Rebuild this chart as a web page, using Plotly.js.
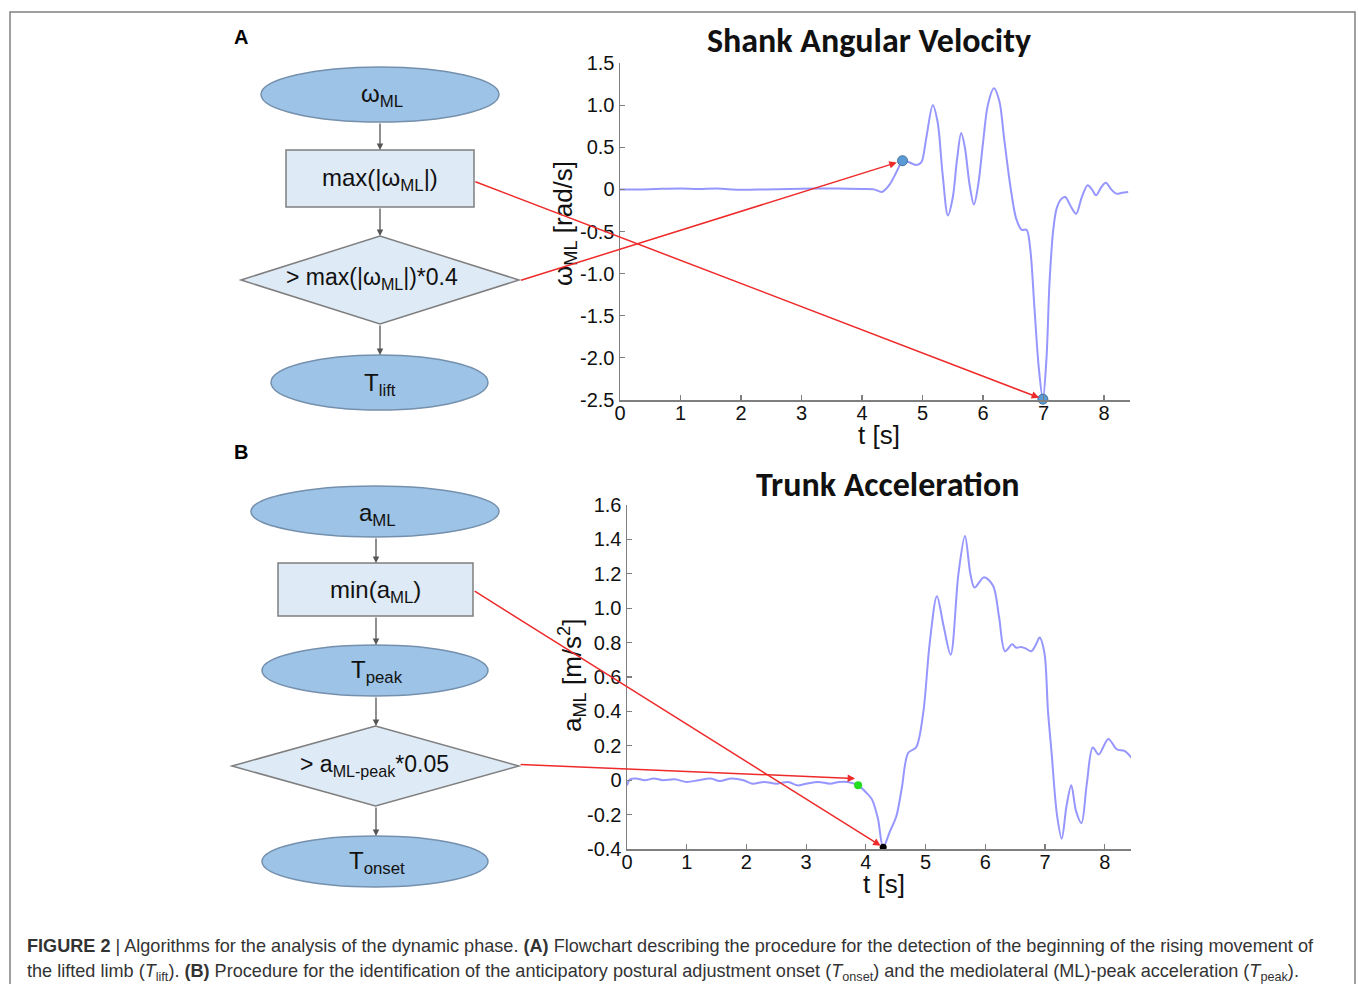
<!DOCTYPE html>
<html>
<head>
<meta charset="utf-8">
<script src="https://cdn.plot.ly/plotly-3.0.1.min.js"></script>
<style>
  html, body { margin: 0; padding: 0; background: #ffffff; }
  #chart { width: 1358px; height: 984px; }
</style>
</head>
<body>
<div id="chart"></div>
<script>
// ---------- DATA ----------
// Shank angular velocity (panel A)
const shankT = [0, 0.3, 0.6, 1.0, 1.3, 1.6, 2.0, 2.4, 2.8, 3.2, 3.6, 4.0, 4.2, 4.33, 4.45, 4.58, 4.67, 4.75, 4.9, 4.98, 5.06, 5.17, 5.25, 5.33, 5.42, 5.5, 5.57, 5.64, 5.7, 5.78, 5.85, 5.92, 6.0, 6.08, 6.18, 6.27, 6.35, 6.45, 6.55, 6.64, 6.72, 6.78, 6.85, 6.92, 6.99, 7.05, 7.1, 7.16, 7.22, 7.3, 7.36, 7.45, 7.54, 7.63, 7.73, 7.8, 7.87, 7.95, 8.03, 8.12, 8.2, 8.3, 8.4];
const shankOmega = [0.0, 0.0, 0.005, 0.01, 0.005, 0.01, -0.005, 0.0, 0.005, 0.01, 0.01, 0.005, 0.0, -0.03, 0.05, 0.22, 0.34, 0.33, 0.29, 0.32, 0.6, 1.0, 0.8, 0.2, -0.31, -0.1, 0.35, 0.67, 0.5, 0.05, -0.18, 0.05, 0.55, 1.0, 1.2, 1.05, 0.6, 0.05, -0.35, -0.48, -0.48, -0.7, -1.4, -2.1, -2.49, -2.0, -1.1, -0.49, -0.22, -0.11, -0.09, -0.2, -0.29, -0.1, 0.05, 0.0, -0.07, 0.02, 0.08, 0.0, -0.05, -0.04, -0.03];
const shankMarkT = [4.67, 6.99];
const shankMarkOmega = [0.34, -2.49];

// Trunk acceleration (panel B)
const trunkT = [0, 0.05, 0.15, 0.3, 0.45, 0.6, 0.8, 1.0, 1.2, 1.4, 1.55, 1.75, 1.95, 2.1, 2.3, 2.5, 2.7, 2.85, 3.0, 3.2, 3.4, 3.55, 3.7, 3.87, 4.0, 4.1, 4.2, 4.29, 4.4, 4.51, 4.6, 4.71, 4.84, 4.96, 5.07, 5.19, 5.3, 5.42, 5.55, 5.66, 5.75, 5.82, 5.98, 6.13, 6.23, 6.33, 6.45, 6.52, 6.6, 6.68, 6.77, 6.85, 6.91, 6.99, 7.05, 7.11, 7.2, 7.28, 7.36, 7.44, 7.52, 7.61, 7.7, 7.8, 7.9, 8.06, 8.2, 8.33, 8.45];
const trunkAcc = [-0.03, 0.005, 0.01, 0.0, 0.01, 0.0, 0.005, -0.01, 0.0, 0.01, -0.005, 0.01, 0.0, -0.02, -0.01, -0.02, -0.01, -0.03, -0.02, -0.01, -0.02, -0.01, -0.01, -0.03, -0.07, -0.11, -0.22, -0.39, -0.3, -0.21, -0.05, 0.16, 0.19, 0.39, 0.8, 1.07, 0.9, 0.73, 1.2, 1.42, 1.2, 1.12, 1.18, 1.13, 0.95, 0.75, 0.79, 0.77, 0.775, 0.765, 0.75, 0.79, 0.83, 0.74, 0.4, 0.16, -0.2, -0.34, -0.15, -0.03, -0.18, -0.25, -0.02, 0.19, 0.15, 0.24, 0.18, 0.17, 0.13];
const onsetT = [3.87];
const onsetAcc = [-0.03];
const peakT = [4.29];
const peakAcc = [-0.39];
const onsetArrowTip = [3.82, 0.01];

// Tick labels
const shankXTicks = [0, 1, 2, 3, 4, 5, 6, 7, 8];
const shankYTicks = [-2.5, -2.0, -1.5, -1.0, -0.5, 0, 0.5, 1.0, 1.5];
const shankYLabels = ['-2.5', '-2.0', '-1.5', '-1.0', '-0.5', '0', '0.5', '1.0', '1.5'];
const trunkXTicks = [0, 1, 2, 3, 4, 5, 6, 7, 8];
const trunkYTicks = [-0.4, -0.2, 0, 0.2, 0.4, 0.6, 0.8, 1.0, 1.2, 1.4, 1.6];
const trunkYLabels = ['-0.4', '-0.2', '0', '0.2', '0.4', '0.6', '0.8', '1.0', '1.2', '1.4', '1.6'];

// ---------- LAYOUT HELPERS ----------
const W = 1358, H = 984;
const PX = x => x / W;
const PY = y => 1 - y / H;

const FONT = 'Liberation Sans, Arial, sans-serif';
const TITLE_FONT = 'Carlito, Lato, sans-serif';
const CURVE = 'rgba(110,110,255,0.72)';
const RED = '#ee2a2a';
const GREY = '#7f7f7f';

function ellipse(x0, y0, x1, y1) {
  return {type: 'circle', xref: 'paper', yref: 'paper', x0: PX(x0), x1: PX(x1), y0: PY(y1), y1: PY(y0),
          fillcolor: '#9DC3E6', line: {color: '#7590ad', width: 1.5}, layer: 'above'};
}
function box(x0, y0, x1, y1) {
  return {type: 'rect', xref: 'paper', yref: 'paper', x0: PX(x0), x1: PX(x1), y0: PY(y1), y1: PY(y0),
          fillcolor: '#DEEAF6', line: {color: GREY, width: 1.5}, layer: 'above'};
}
function diamond(x0, y0, x1, y1) {
  const xm = (x0 + x1) / 2, ym = (y0 + y1) / 2;
  const p = `M ${PX(x0)},${PY(ym)} L ${PX(xm)},${PY(y0)} L ${PX(x1)},${PY(ym)} L ${PX(xm)},${PY(y1)} Z`;
  return {type: 'path', xref: 'paper', yref: 'paper', path: p,
          fillcolor: '#DEEAF6', line: {color: GREY, width: 1.5}, layer: 'above'};
}
function label(text, x, y, size, opts) {
  return Object.assign({text: text, xref: 'paper', yref: 'paper', x: PX(x), y: PY(y),
          xanchor: 'center', yanchor: 'middle', showarrow: false,
          font: {family: FONT, size: size, color: '#111111'}}, opts || {});
}
function downArrow(x, yTop, yBot) {
  return {text: '', xref: 'paper', yref: 'paper', x: PX(x), y: PY(yBot), ax: 0, ay: -(yBot - yTop),
          showarrow: true, arrowhead: 2, arrowsize: 1, arrowwidth: 1.3, arrowcolor: '#555555', standoff: 0};
}
function redArrow(xref, yref, x, y, ax, ay, standoff) {
  return {text: '', xref: xref, yref: yref, x: x, y: y, ax: ax, ay: ay,
          showarrow: true, arrowhead: 2, arrowsize: 1, arrowwidth: 1.5, arrowcolor: RED, standoff: standoff};
}

// ---------- TRACES ----------
const traces = [
  {x: shankT, y: shankOmega, xaxis: 'x', yaxis: 'y', mode: 'lines',
   line: {color: CURVE, width: 2, shape: 'spline', smoothing: 0.9}, hoverinfo: 'skip'},
  {x: shankMarkT, y: shankMarkOmega, xaxis: 'x', yaxis: 'y', mode: 'markers',
   marker: {color: '#5b9bd5', size: 10, line: {color: '#41719c', width: 1}}, cliponaxis: false},
  {x: trunkT, y: trunkAcc, xaxis: 'x2', yaxis: 'y2', mode: 'lines',
   line: {color: CURVE, width: 2, shape: 'spline', smoothing: 0.9}, hoverinfo: 'skip'},
  {x: onsetT, y: onsetAcc, xaxis: 'x2', yaxis: 'y2', mode: 'markers',
   marker: {color: '#22dd22', size: 8}, cliponaxis: false},
  {x: peakT, y: peakAcc, xaxis: 'x2', yaxis: 'y2', mode: 'markers',
   marker: {color: '#000000', size: 7}, cliponaxis: false}
];

const axisCommon = {
  showline: true, linecolor: GREY, linewidth: 1.5, ticks: 'inside', ticklen: 5,
  tickcolor: GREY, tickwidth: 1.2, showgrid: false, zeroline: false, fixedrange: true,
  tickfont: {family: FONT, size: 20, color: '#111111'}
};

const shapes = [
  // outer figure frame
  {type: 'rect', xref: 'paper', yref: 'paper', x0: PX(10), x1: PX(1355), y0: PY(1000), y1: PY(12),
   line: {color: '#808080', width: 1.5}, fillcolor: 'rgba(0,0,0,0)', layer: 'below'},
  // Panel A flowchart
  ellipse(261, 67, 499, 122),
  box(286, 150, 474, 207),
  diamond(241, 236, 519, 324),
  ellipse(271, 355, 488, 410),
  // Panel B flowchart
  ellipse(251, 486, 499, 537),
  box(278, 563, 473, 616),
  ellipse(262, 645, 488, 696),
  diamond(232, 726, 519, 806),
  ellipse(262, 836, 488, 887)
];

const annotations = [
  label('<b>A</b>', 241, 37, 20, {font: {family: FONT, size: 20, color: '#000'}}),
  label('<b>B</b>', 241, 452, 20, {font: {family: FONT, size: 20, color: '#000'}}),
  // flowchart A
  downArrow(380, 122, 150), downArrow(380, 207, 236), downArrow(380, 324, 355),
  label('ω<sub>ML</sub>', 382, 96, 24),
  label('max(|ω<sub>ML</sub>|)', 380, 180, 24),
  label('&gt; max(|ω<sub>ML</sub>|)*0.4', 372, 279, 23),
  label('T<sub>lift</sub>', 380, 384, 24),
  // flowchart B
  downArrow(376, 537, 563), downArrow(376, 616, 645), downArrow(376, 696, 726), downArrow(376, 806, 836),
  label('a<sub>ML</sub>', 377, 514, 24),
  label('min(a<sub>ML</sub>)', 375, 591, 24),
  label('T<sub>peak</sub>', 377, 671, 24),
  label('&gt; a<sub>ML-peak</sub>*0.05', 374, 765, 23),
  label('T<sub>onset</sub>', 377, 862, 24),
  // plot titles
  label('<b>Shank Angular Velocity</b>', 869, 40, 34, {font: {family: TITLE_FONT, size: 34, color: '#111'}}),
  label('<b>Trunk Acceleration</b>', 888, 484, 34, {font: {family: TITLE_FONT, size: 34, color: '#111'}}),
  // axis titles
  label('t [s]', 879, 435, 26),
  label('t [s]', 884, 884, 26),
  label('ω<sub>ML</sub> [rad/s]', 564, 224, 26, {textangle: -90}),
  label('a<sub>ML</sub> [m/s<sup>2</sup>]', 572, 676, 26, {textangle: -90}),
  // red arrows (head at data point, tail offset in px to flowchart)
  redArrow('x', 'y', shankMarkT[1], shankMarkOmega[1], -569, -218, 4),
  redArrow('x', 'y', shankMarkT[0], shankMarkOmega[0], -383, 120, 6),
  redArrow('x2', 'y2', peakT[0], peakAcc[0], -410, -257, 3),
  redArrow('x2', 'y2', onsetArrowTip[0], onsetArrowTip[1], -336, -14, 0),
  // caption
  label('<b>FIGURE 2</b> | Algorithms for the analysis of the dynamic phase. <b>(A)</b> Flowchart describing the procedure for the detection of the beginning of the rising movement of',
        25, 946, 18, {xanchor: 'left', font: {family: 'Liberation Sans Narrow, Arial Narrow, Liberation Sans, sans-serif', size: 18.1, color: '#333'}}),
  label('the lifted limb (<i>T</i><sub>lift</sub>). <b>(B)</b> Procedure for the identification of the anticipatory postural adjustment onset (<i>T</i><sub>onset</sub>) and the mediolateral (ML)-peak acceleration (<i>T</i><sub>peak</sub>).',
        25, 972, 18, {xanchor: 'left', font: {family: 'Liberation Sans Narrow, Arial Narrow, Liberation Sans, sans-serif', size: 18.1, color: '#333'}})
];

const layout = {
  width: W, height: H,
  margin: {l: 0, r: 0, t: 0, b: 0},
  paper_bgcolor: '#ffffff', plot_bgcolor: 'rgba(0,0,0,0)',
  showlegend: false,
  xaxis: Object.assign({}, axisCommon, {domain: [PX(620), PX(1130)], range: [0, 8.43], anchor: 'y',
          tickvals: shankXTicks, ticktext: shankXTicks.map(String), ticklabelstandoff: -6}),
  yaxis: Object.assign({}, axisCommon, {domain: [PY(400), PY(63)], range: [-2.5, 1.5], anchor: 'x',
          tickvals: shankYTicks, ticktext: shankYLabels}),
  xaxis2: Object.assign({}, axisCommon, {domain: [PX(627), PX(1131)], range: [0, 8.44], anchor: 'y2',
          tickvals: trunkXTicks, ticktext: trunkXTicks.map(String), ticklabelstandoff: -6}),
  yaxis2: Object.assign({}, axisCommon, {domain: [PY(849), PY(505)], range: [-0.4, 1.6], anchor: 'x2',
          tickvals: trunkYTicks, ticktext: trunkYLabels}),
  shapes: shapes,
  annotations: annotations
};

Plotly.newPlot('chart', traces, layout, {staticPlot: true, displayModeBar: false});
</script>
</body>
</html>
